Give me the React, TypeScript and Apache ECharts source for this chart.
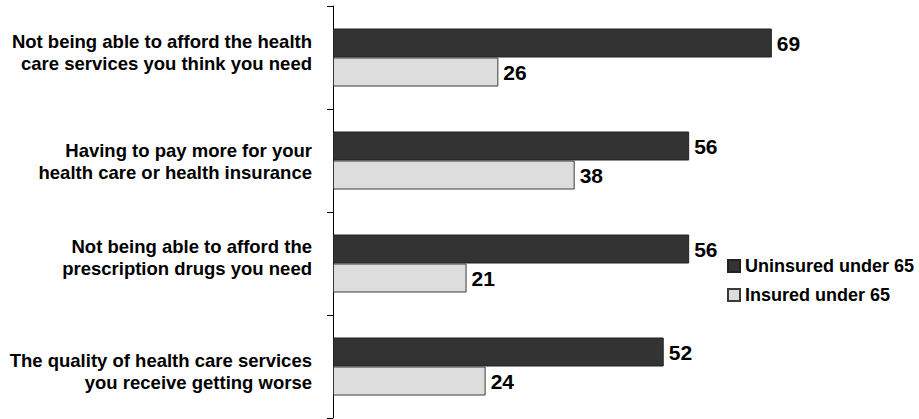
import React, { useEffect, useRef } from "react";
import * as echarts from "echarts";

const categories = [
  "Not being able to afford the health\ncare services you think you need",
  "Having to pay more for your\nhealth care or health insurance",
  "Not being able to afford the\nprescription drugs you need",
  "The quality of health care services\nyou receive getting worse",
];
const uninsured = [69, 56, 56, 52];
const insured = [26, 38, 21, 24];
const seriesNames = ["Uninsured under 65", "Insured under 65"];

// small vertical nudges of the category labels (px, negative = up)
const labelNudge = [-5, 1, -6, 5];

const SANS = '"Liberation Sans", Arial, Helvetica, sans-serif';

export default function App() {
  const ref = useRef<HTMLDivElement>(null);
  useEffect(() => {
    if (!ref.current) return;
    const chart = echarts.init(ref.current, undefined, { renderer: "svg" });
    const valueLabel = {
      show: true,
      position: "right",
      distance: 5,
      color: "#000",
      fontFamily: SANS,
      fontWeight: "bold",
      fontSize: 21,
    };
    const rich: Record<string, any> = {
      t: {
        color: "#000",
        fontFamily: SANS,
        fontWeight: "bold",
        fontSize: 18.5,
        lineHeight: 21.6,
        align: "right",
      },
    };
    labelNudge.forEach((n) => {
      const h = Math.abs(2 * n);
      rich["s" + h] = { fontSize: 1, lineHeight: h, align: "right" };
    });
    chart.setOption({
      animation: false,
      backgroundColor: "#fff",
      grid: { left: 333, right: 13.6, top: 6, bottom: 1, containLabel: false },
      xAxis: {
        type: "value",
        min: 0,
        max: 90,
        show: false,
      },
      yAxis: {
        type: "category",
        inverse: true,
        data: categories,
        axisLine: { show: true, lineStyle: { color: "#000", width: 1 } },
        axisTick: { show: true, length: 6, lineStyle: { color: "#000" } },
        axisLabel: {
          margin: 21,
          align: "right",
          formatter: (value: string, index: number) => {
            const n = labelNudge[index] || 0;
            const body = value
              .split("\n")
              .map((l) => "{t|" + l + "}")
              .join("\n");
            const spacer = "{s" + Math.abs(2 * n) + "| }";
            if (n < 0) return body + "\n" + spacer;
            if (n > 0) return spacer + "\n" + body;
            return body;
          },
          rich,
        },
      },
      legend: {
        orient: "vertical",
        left: 727,
        top: 255,
        padding: 0,
        itemWidth: 12,
        itemHeight: 12,
        itemGap: 7,
        icon: "rect",
        data: seriesNames,
        textStyle: {
          color: "#000",
          fontFamily: SANS,
          fontWeight: "bold",
          fontSize: 18,
          lineHeight: 22,
        },
      },
      series: [
        {
          name: seriesNames[0],
          type: "bar",
          data: uninsured,
          barWidth: 29,
          barGap: "0%",
          itemStyle: { color: "#333333", borderColor: "#222", borderWidth: 1 },
          label: valueLabel,
        },
        {
          name: seriesNames[1],
          type: "bar",
          data: insured,
          barWidth: 29,
          barGap: "0%",
          itemStyle: { color: "#dddddd", borderColor: "#3a3a3a", borderWidth: 1 },
          label: valueLabel,
        },
      ],
    });
    return () => chart.dispose();
  }, []);
  return (
    <div
      ref={ref}
      style={{ position: "fixed", left: 0, top: 0, width: 919, height: 419 }}
    />
  );
}
